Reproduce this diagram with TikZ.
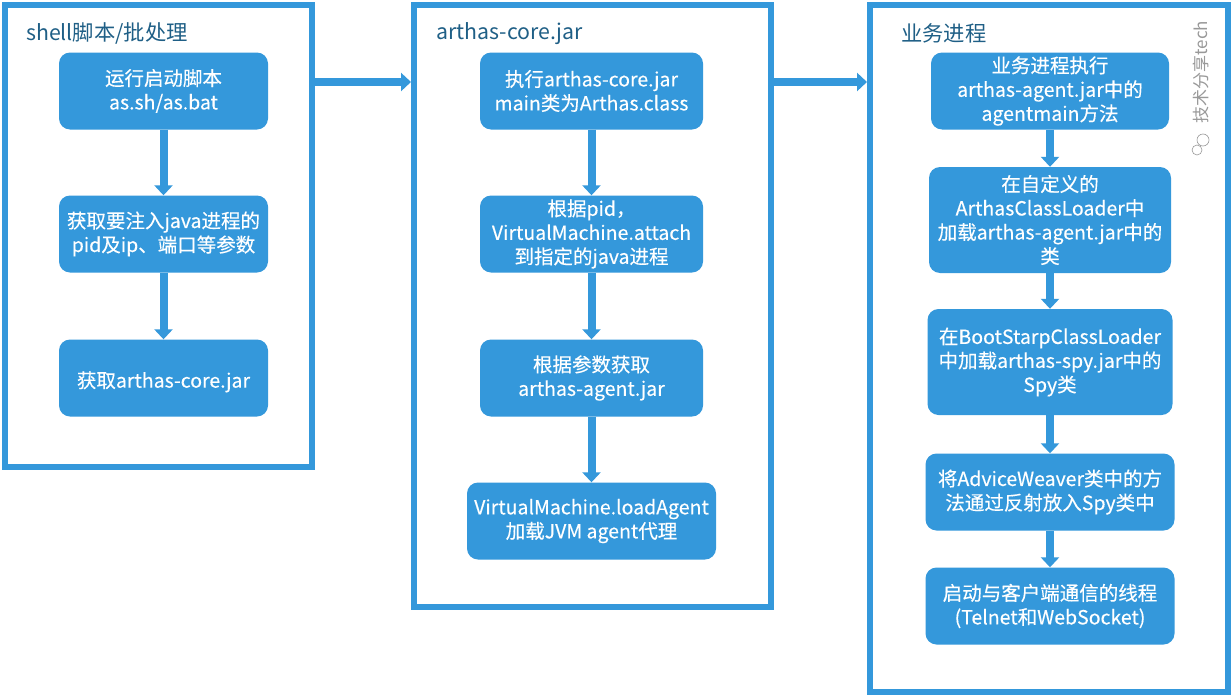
\documentclass[tikz,border=0pt]{standalone}
\usepackage{fontspec}
\setmainfont{Noto Sans CJK SC}
\newfontfamily\boxfont[FakeBold=0.3]{Noto Sans CJK SC}
\usetikzlibrary{positioning,arrows.meta}
\definecolor{boxblue}{HTML}{3498DB}
\definecolor{titleblue}{HTML}{1F5F86}
\tikzset{
  frame/.style={draw=boxblue,line width=6pt,fill=white,outer sep=0pt,anchor=north west},
  stepbox/.style={fill=boxblue,rounded corners=11pt,text=white,align=center,font=\boxfont\fontsize{19.5}{24}\selectfont,inner sep=0pt},
  drop/.style={execute at begin node={\rule{0pt}{#1}}},
  flow/.style={draw=boxblue,line width=8pt,-{Triangle[length=10pt,width=18pt]}},
  title/.style={text=titleblue,anchor=west,font=\fontsize{21.3}{25}\selectfont,inner sep=0pt}
}
\begin{document}
\begin{tikzpicture}[x=1pt,y=-1pt]
  \useasboundingbox (0,0) rectangle (1231,696);

  % frames
  \node[frame,minimum width=307pt,minimum height=462pt] (shell) at (5,5) {};
  \node[frame,minimum width=357pt,minimum height=602pt] (core) at (414,5) {};
  \node[frame,minimum width=358pt,minimum height=687pt] (biz) at (870,5) {};

  % titles
  \node[title] (t1) at (26,33.5) {shell脚本/批处理};
  \node[title] (t2) at (436,33.5) {arthas-core.jar};
  \node[title] (t3) at (901,33.5) {业务进程};

  % first column
  \node[stepbox,drop=24pt,minimum width=209pt,minimum height=77pt] (a1) at (163.5,91) {运行启动脚本\\as.sh/as.bat};
  \node[stepbox,drop=24pt,minimum width=209pt,minimum height=77pt] (a2) at (163.5,234) {获取要注入java进程的\\pid及ip、端口等参数};
  \node[stepbox,drop=24pt,minimum width=209pt,minimum height=77pt] (a3) at (163.5,378) {获取arthas-core.jar};

  % second column
  \node[stepbox,drop=24pt,minimum width=223pt,minimum height=77pt] (b1) at (591.5,91) {执行arthas-core.jar\\main类为Arthas.class};
  \node[stepbox,drop=24pt,minimum width=223pt,minimum height=77pt] (b2) at (591.5,234) {根据pid，\\VirtualMachine.attach\\到指定的java进程};
  \node[stepbox,drop=24pt,minimum width=223pt,minimum height=77pt] (b3) at (591.5,378) {根据参数获取\\arthas-agent.jar};
  \node[stepbox,drop=24pt,minimum width=249pt,minimum height=77pt] (b4) at (591.5,521) {VirtualMachine.loadAgent\\加载JVM agent代理};

  % third column
  \node[stepbox,minimum width=238pt,minimum height=77pt] (c1) at (1050,91) {业务进程执行\\arthas-agent.jar中的\\agentmain方法};
  \node[stepbox,minimum width=242pt,minimum height=106pt] (c2) at (1050,220) {在自定义的\\ArthasClassLoader中\\加载arthas-agent.jar中的\\类};
  \node[stepbox,drop=24pt,minimum width=245pt,minimum height=106pt] (c3) at (1050,362) {在BootStarpClassLoader\\中加载arthas-spy.jar中的\\Spy类};
  \node[stepbox,drop=22pt,minimum width=249pt,minimum height=77pt] (c4) at (1050,492) {将AdviceWeaver类中的方\\法通过反射放入Spy类中};
  \node[stepbox,drop=22pt,minimum width=249pt,minimum height=77pt] (c5) at (1050,606) {启动与客户端通信的线程\\(Telnet和WebSocket)};

  % arrows
  \draw[flow] (a1) -- (a2);
  \draw[flow] (a2) -- (a3);
  \draw[flow] (b1) -- (b2);
  \draw[flow] (b2) -- (b3);
  \draw[flow] (b3) -- (b4);
  \draw[flow] (c1) -- (c2);
  \draw[flow] (c2) -- (c3);
  \draw[flow] (c3) -- (c4);
  \draw[flow] (c4) -- (c5);
  \draw[flow,shorten >=3pt] (shell.east |- 0,82) -- (core.west |- 0,82);
  \draw[flow,shorten >=3pt] (core.east |- 0,82) -- (biz.west |- 0,82);

  % watermark
  \node[rotate=90,text=black!40,font=\fontsize{17}{20}\selectfont,inner sep=0pt] (mark) at (1201,72) {技术分享tech};
  \draw[black!40,line width=0.6pt] (1203,140) circle (6pt);
  \draw[black!40,line width=0.6pt] (1197,150) circle (5pt);
\end{tikzpicture}
\end{document}
